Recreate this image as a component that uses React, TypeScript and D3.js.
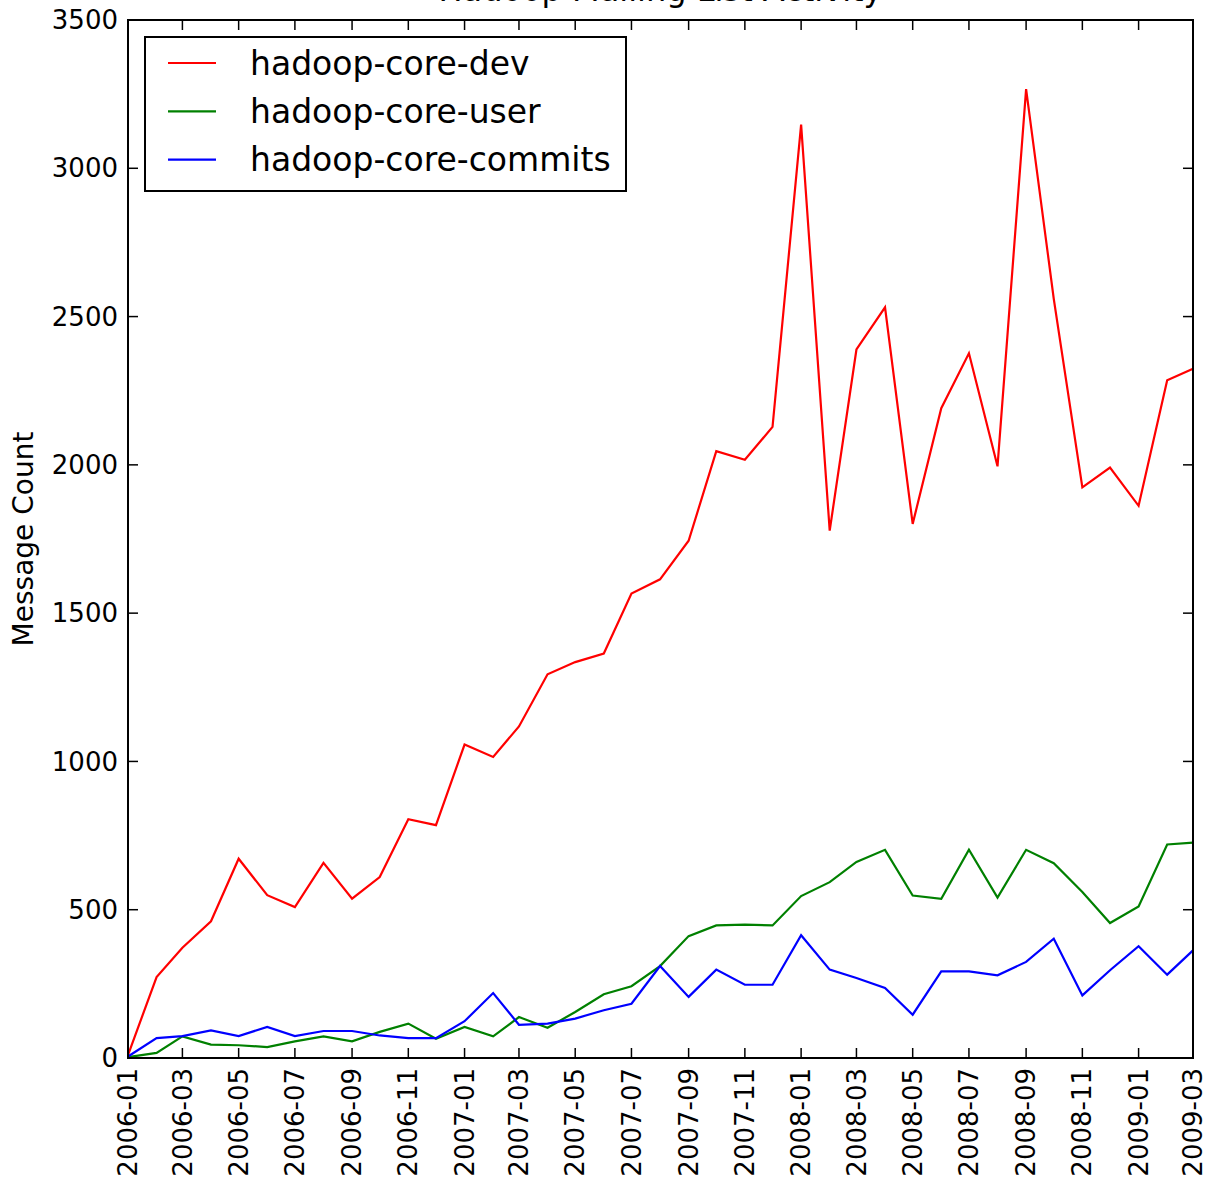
import React from "react";
import * as d3 from "d3";

const months: string[] = [
  "2006-01","2006-02","2006-03","2006-04","2006-05","2006-06","2006-07","2006-08","2006-09","2006-10","2006-11","2006-12",
  "2007-01","2007-02","2007-03","2007-04","2007-05","2007-06","2007-07","2007-08","2007-09","2007-10","2007-11","2007-12",
  "2008-01","2008-02","2008-03","2008-04","2008-05","2008-06","2008-07","2008-08","2008-09","2008-10","2008-11","2008-12",
  "2009-01","2009-02","2009-03",
];

const devCounts: number[] = [
  10, 273, 372, 461, 672, 549, 509, 658, 537, 610, 805, 785,
  1057, 1015, 1118, 1294, 1335, 1364, 1566, 1614, 1744, 2046, 2017, 2128,
  3147, 1778, 2389, 2531, 1801, 2191, 2376, 1995, 3267, 2560, 1924, 1991,
  1862, 2285, 2324,
];

const userCounts: number[] = [
  3, 17, 73, 45, 43, 37, 56, 73, 56, 88, 116, 65,
  105, 73, 138, 102, 155, 215, 242, 310, 411, 447, 450, 447,
  546, 593, 661, 702, 548, 537, 702, 541, 702, 657, 560, 455,
  511, 720, 726,
];

const commitCounts: number[] = [
  5, 67, 74, 93, 74, 105, 74, 91, 91, 76, 67, 67,
  124, 219, 112, 116, 133, 161, 183, 310, 206, 298, 247, 247,
  414, 298, 270, 236, 146, 292, 292, 279, 324, 402, 211, 296,
  377, 281, 363,
];

const seriesNames: string[] = ["hadoop-core-dev", "hadoop-core-user", "hadoop-core-commits"];
const seriesColors: string[] = ["#ff0000", "#008000", "#0000ff"];
const yTicks: number[] = [0, 500, 1000, 1500, 2000, 2500, 3000, 3500];

const title = "Hadoop Mailing List Activity";
const yLabel = "Message Count";

const W = 1206;
const H = 1185;
const left = 128;
const right = 1193;
const top = 20;
const bottom = 1058;
const FONT = "'DejaVu Sans', Verdana, sans-serif";

export default function App() {
  const parse = d3.timeParse("%Y-%m");
  const dates = months.map((m) => parse(m) as Date);
  const x = d3.scaleTime().domain([dates[0], dates[dates.length - 1]]).range([left, right]);
  const y = d3.scaleLinear().domain([0, 3500]).range([bottom, top]);

  const all = [devCounts, userCounts, commitCounts];
  const line = d3
    .line<number>()
    .x((_, i) => x(dates[i]))
    .y((d) => y(d));

  const tickDates = dates.filter((_, i) => i % 2 === 0);
  const fmt = d3.timeFormat("%Y-%m");
  const tickLen = 10;

  return (
    <svg
      width={W}
      height={H}
      style={{ position: "absolute", left: 0, top: 0, background: "#fff" }}
      fontFamily={FONT}
    >
      <rect x={0} y={0} width={W} height={H} fill="#fff" />
      <text x={(left + right) / 2} y={1} textAnchor="middle" fontSize={32} fill="#000">
        {title}
      </text>

      {all.map((vals, k) => (
        <path
          key={k}
          d={line(vals) || ""}
          fill="none"
          stroke={seriesColors[k]}
          strokeWidth={2.2}
          strokeLinejoin="miter"
        />
      ))}

      {/* x ticks */}
      {tickDates.map((d, i) => {
        const xx = x(d);
        return (
          <g key={"xt" + i}>
            <line x1={xx} x2={xx} y1={bottom} y2={bottom - tickLen} stroke="#000" strokeWidth={1.5} />
            <line x1={xx} x2={xx} y1={top} y2={top + tickLen} stroke="#000" strokeWidth={1.5} />
            <text
              transform={`translate(${xx},${bottom + 10}) rotate(-90)`}
              textAnchor="end"
              dy="0.35em"
              fontSize={26}
              fill="#000"
            >
              {fmt(d)}
            </text>
          </g>
        );
      })}

      {/* y ticks */}
      {yTicks.map((t) => {
        const yy = y(t);
        return (
          <g key={"yt" + t}>
            <line x1={left} x2={left + tickLen} y1={yy} y2={yy} stroke="#000" strokeWidth={1.5} />
            <line x1={right} x2={right - tickLen} y1={yy} y2={yy} stroke="#000" strokeWidth={1.5} />
            <text x={left - 10} y={yy} dy="0.35em" textAnchor="end" fontSize={26} fill="#000">
              {t}
            </text>
          </g>
        );
      })}

      <rect
        x={left}
        y={top}
        width={right - left}
        height={bottom - top}
        fill="none"
        stroke="#000"
        strokeWidth={2}
      />

      <text
        transform={`translate(33,${(top + bottom) / 2}) rotate(-90)`}
        textAnchor="middle"
        fontSize={28}
        fill="#000"
      >
        {yLabel}
      </text>

      {/* legend */}
      <g>
        <rect x={145} y={37} width={481} height={154} fill="#fff" stroke="#000" strokeWidth={2} />
        {seriesNames.map((name, k) => {
          const ly = 63 + k * 48.3;
          return (
            <g key={"lg" + k}>
              <line x1={168} x2={216} y1={ly} y2={ly} stroke={seriesColors[k]} strokeWidth={2.2} />
              <text x={250} y={ly} dy="0.36em" fontSize={33} fill="#000">
                {name}
              </text>
            </g>
          );
        })}
      </g>
    </svg>
  );
}
